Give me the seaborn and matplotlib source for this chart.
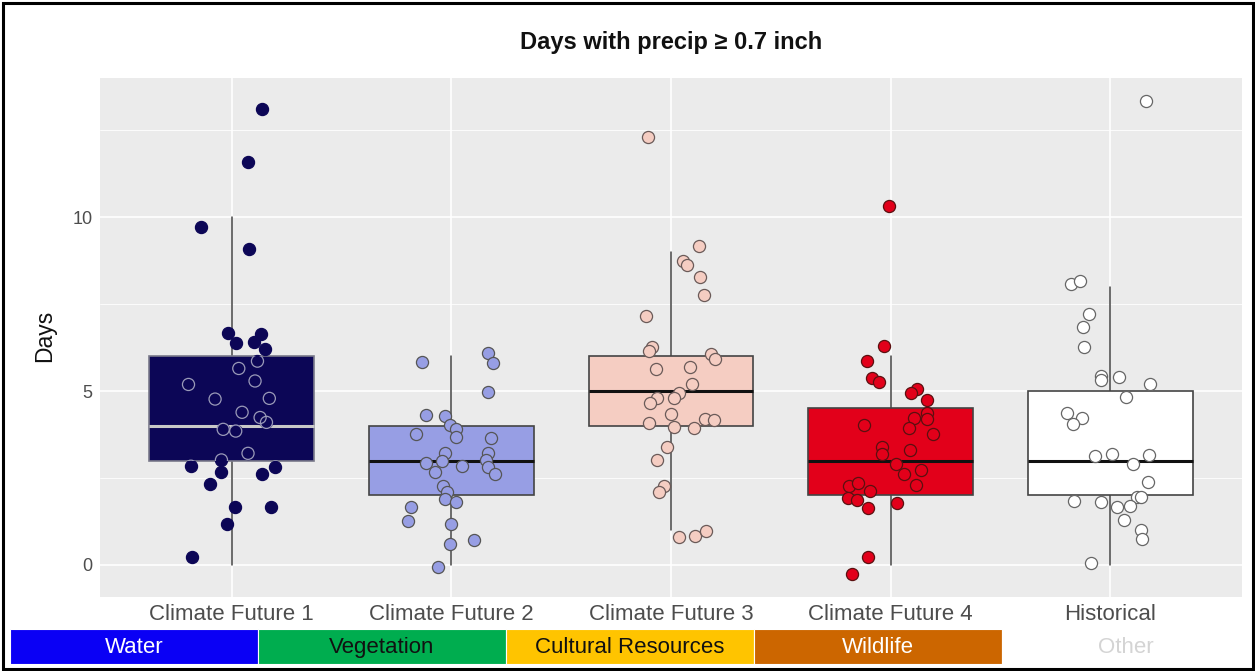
import numpy as np
import pandas as pd
import matplotlib
matplotlib.use("Agg")
import matplotlib.pyplot as plt
from matplotlib.patches import Rectangle
import seaborn as sns

# ---------------- data ----------------
categories = ["Climate Future 1", "Climate Future 2", "Climate Future 3", "Climate Future 4", "Historical"]
box_colors = ["#0c0656", "#979ee4", "#f5cdc2", "#e2001a", "#ffffff"]

box_q1 = [3, 2, 4, 2, 2]
box_med = [4, 3, 5, 3, 3]
box_q3 = [6, 4, 6, 4.5, 5]
whisk_lo = [0, 0, 1, 0, 0]
whisk_hi = [10, 6, 9, 6, 8]

cf1_dx = [0.138, 0.074, -0.142, 0.077, -0.018, 0.135, 0.020, 0.103, 0.152, 0.117, 0.032, -0.197, 0.106,
          -0.076, 0.171, 0.047, 0.129, 0.158, -0.039, 0.018, 0.074, -0.047, -0.186, 0.199, -0.047, 0.139,
          -0.100, 0.015, 0.179, -0.021, -0.179]
cf1_y = [13.12, 11.59, 9.72, 9.08, 6.68, 6.63, 6.38, 6.40, 6.20, 5.86, 5.65, 5.19, 5.29,
         4.77, 4.79, 4.39, 4.24, 4.10, 3.90, 3.85, 3.21, 3.02, 2.84, 2.82, 2.68, 2.61,
         2.34, 1.67, 1.67, 1.18, 0.24]

cf2_dx = [-0.135, 0.167, 0.191, 0.169, -0.115, -0.027, -0.005, 0.021, -0.159, 0.020, 0.180, -0.027, 0.169,
          -0.044, -0.114, 0.050, 0.158, 0.168, -0.074, 0.200, -0.039, -0.018, -0.027, 0.021, -0.183, -0.198,
          -0.003, -0.006, 0.105, -0.062]
cf2_y = [5.83, 6.10, 5.80, 4.96, 4.31, 4.28, 4.02, 3.90, 3.77, 3.69, 3.65, 3.21, 3.23,
         2.99, 2.92, 2.86, 3.02, 2.83, 2.68, 2.61, 2.28, 2.09, 1.89, 1.82, 1.66, 1.26,
         1.19, 0.59, 0.72, -0.05]

cf3_dx = [-0.103, 0.129, 0.055, 0.071, 0.130, 0.150, -0.114, -0.088, -0.101, 0.182, 0.200, -0.067, 0.086,
          0.094, 0.035, -0.062, -0.094, 0.015, 0.000, 0.155, 0.195, -0.099, 0.015, 0.106, -0.018, -0.065,
          -0.034, -0.053, 0.035, 0.111, 0.158]
cf3_y = [12.29, 9.16, 8.74, 8.62, 8.28, 7.76, 7.16, 6.26, 6.14, 6.06, 5.93, 5.64, 5.68,
         5.21, 4.95, 4.81, 4.66, 4.79, 4.34, 4.21, 4.17, 4.07, 3.97, 3.95, 3.40, 3.01,
         2.28, 2.09, 0.81, 0.84, 0.99]

cf4_dx = [-0.006, -0.032, -0.109, -0.086, -0.055, 0.121, 0.094, 0.167, 0.167, 0.106, 0.165, -0.121, 0.085,
          0.194, -0.039, -0.039, 0.088, 0.026, 0.138, 0.062, 0.114, -0.188, -0.150, -0.092, -0.194, -0.155,
          -0.105, 0.029, -0.105, -0.177]
cf4_y = [10.33, 6.29, 5.87, 5.39, 5.25, 5.06, 4.95, 4.74, 4.36, 4.24, 4.20, 4.02, 3.93,
         3.78, 3.40, 3.19, 3.30, 2.90, 2.73, 2.61, 2.30, 2.28, 2.35, 2.13, 1.92, 1.87,
         1.63, 1.77, 0.23, -0.25]

hist_dx = [0.161, -0.177, -0.138, -0.095, -0.123, -0.118, -0.041, -0.041, 0.039, 0.183, 0.073, -0.197, -0.130,
           -0.168, -0.070, 0.008, 0.176, 0.103, 0.170, 0.124, 0.142, -0.167, -0.040, 0.033, 0.089, 0.064,
           0.139, 0.144, -0.086]
hist_y = [13.33, 8.08, 8.15, 7.22, 6.84, 6.26, 5.43, 5.31, 5.41, 5.19, 4.83, 4.37, 4.22,
          4.05, 3.13, 3.20, 3.16, 2.90, 2.38, 1.95, 1.95, 1.84, 1.82, 1.68, 1.71, 1.28,
          1.00, 0.75, 0.07]

point_dx = [cf1_dx, cf2_dx, cf3_dx, cf4_dx, hist_dx]
point_y = [cf1_y, cf2_y, cf3_y, cf4_y, hist_y]

band_labels = ["Water", "Vegetation", "Cultural Resources", "Wildlife", "Other"]
band_colors = ["#0a00f5", "#00ad4f", "#ffc400", "#cc6600", "#ffffff"]
band_text_colors = ["#ffffff", "#111111", "#111111", "#ffffff", "#d4d4d4"]

title = "Days with precip \u2265 0.7 inch"
y_label = "Days"
y_ticks = [0, 5, 10]

# ---------------- style ----------------
sns.set_style("white")
plt.rcParams["font.family"] = ["Liberation Sans", "DejaVu Sans"]

W, H = 1255, 671
fig = plt.figure(figsize=(W / 100, H / 100), dpi=100)
fig.patch.set_facecolor("white")

px_l, px_r, px_t, px_b = 100, 1242, 78, 597
ax = fig.add_axes([px_l / W, 1 - px_b / H, (px_r - px_l) / W, (px_b - px_t) / H])
ax.set_facecolor("#ebebeb")
for s in ax.spines.values():
    s.set_visible(False)

ax.set_xlim(-0.6, 4.6)
ax.set_ylim(-0.92, 14.0)

# grid
for yv in [2.5, 7.5, 12.5]:
    ax.axhline(yv, color="white", lw=0.6, zorder=0)
for yv in y_ticks:
    ax.axhline(yv, color="white", lw=1.2, zorder=0)
for i in range(len(categories)):
    ax.axvline(i, color="white", lw=1.2, zorder=0)

# boxes
stats = []
for i in range(len(categories)):
    stats.append(dict(q1=box_q1[i], med=box_med[i], q3=box_q3[i],
                      whislo=whisk_lo[i], whishi=whisk_hi[i], fliers=[]))

box_patches = []
for i, st in enumerate(stats):
    edge = "#444444" if i != 0 else "#7a7a8a"
    medc = "#111111" if i != 0 else "#c8c8c8"
    res = ax.bxp([st], positions=[i], widths=0.75, patch_artist=True, showcaps=False,
                 showfliers=False, manage_ticks=False,
                 boxprops=dict(facecolor=box_colors[i], edgecolor=edge, linewidth=1.2),
                 medianprops=dict(color=medc, linewidth=2.2),
                 whiskerprops=dict(color="#444444", linewidth=1.1))
    for b in res["boxes"]:
        b.set_zorder(2)
        box_patches.append(b)
    for m in res["medians"]:
        m.set_zorder(2.5)
    for w in res["whiskers"]:
        w.set_zorder(1.5)

# points
edge_cols = ["#0c0656", "#555555", "#6a5a58", "#5a1010", "#666666"]
for i in range(len(categories)):
    df = pd.DataFrame({"x": np.array(point_dx[i]) + i, "y": point_y[i]})
    sns.scatterplot(data=df, x="x", y="y", ax=ax, color=box_colors[i], s=76,
                    edgecolor=edge_cols[i], linewidth=0.9, zorder=3, legend=False)
    if i == 0:
        sns.scatterplot(data=df, x="x", y="y", ax=ax, s=76, facecolor="none",
                        edgecolor="#9a9ab8", linewidth=0.9, zorder=3.5, legend=False)
        ax.collections[-1].set_clip_path(box_patches[0])

# axes text
ax.set_xticks(range(len(categories)))
ax.set_xticklabels(categories, fontsize=16, color="#4d4d4d")
ax.set_yticks(y_ticks)
ax.set_yticklabels([str(v) for v in y_ticks], fontsize=13, color="#4d4d4d")
ax.tick_params(axis="both", length=3.5, width=0.8, color="#555555")
ax.tick_params(axis="x", pad=1.5)
ax.tick_params(axis="y", pad=2)
ax.set_xlabel("")
ax.set_ylabel("")

fig.text(45 / W, 1 - 336 / H, y_label, ha="center", va="center", rotation=90,
         fontsize=16.5, color="#111111")
fig.text(671 / W, 1 - 43 / H, title, ha="center", va="center",
         fontsize=17, fontweight="bold", color="#111111")

# category bands
band_ax = fig.add_axes([10 / W, 1 - 664 / H, (1250 - 10) / W, 35 / H])
band_ax.set_xlim(0, 5)
band_ax.set_ylim(0, 1)
band_ax.axis("off")
for i, lab in enumerate(band_labels):
    band_ax.add_patch(Rectangle((i, 0), 1, 1, facecolor=band_colors[i], edgecolor="white", lw=0.8))
    band_ax.text(i + 0.5, 0.48, lab, ha="center", va="center", fontsize=16, color=band_text_colors[i])

# outer border
fig.patches.append(Rectangle((2.5 / W, 2.5 / H), (W - 5) / W, (H - 5) / H, transform=fig.transFigure,
                             fill=False, edgecolor="black", lw=2.2))

fig.savefig("out.png", dpi=100)
